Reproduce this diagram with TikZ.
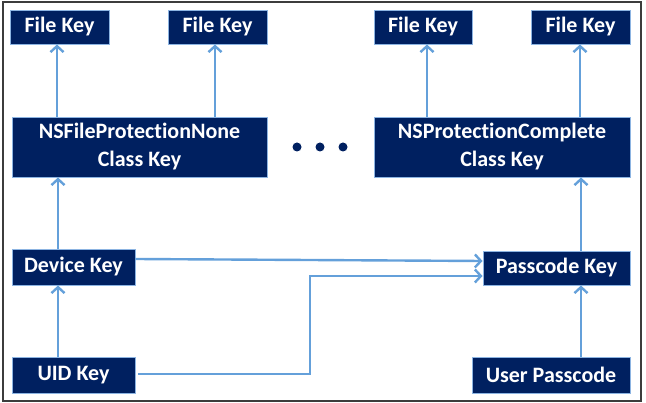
\documentclass[tikz,border=0pt]{standalone}
\usepackage{fontspec}
\setmainfont{Carlito}[Ligatures=NoCommon]
\usetikzlibrary{arrows.meta}
\definecolor{navy}{RGB}{0,32,96}
\definecolor{edgeblue}{RGB}{140,180,226}
\definecolor{arrblue}{RGB}{100,160,218}
\definecolor{framegray}{RGB}{60,60,60}
\tikzset{
  keybox/.style={draw=edgeblue, line width=0.9pt, fill=navy, text=white,
    font=\fontsize{22}{28}\selectfont\bfseries, align=center,
    inner sep=0pt, anchor=center},
  arr/.style={draw=arrblue, line width=2.4pt,
    -{Straight Barb[length=6pt,width=13pt,line width=2.4pt]}},
  dot/.style={circle, fill=navy, inner sep=0pt, minimum size=9pt}
}
\begin{document}
\begin{tikzpicture}[x=1pt,y=-1pt]
\useasboundingbox (0,0) rectangle (646,403);
\draw[framegray, line width=1.3pt] (3,2) rectangle (641,401);
% nodes
\node[keybox, minimum width=99pt, minimum height=34pt] (fk1) at (59.5,27) {File Key};
\node[keybox, minimum width=99pt, minimum height=34pt] (fk2) at (217.5,27) {File Key};
\node[keybox, minimum width=98pt, minimum height=34pt] (fk3) at (423,27) {File Key};
\node[keybox, minimum width=99pt, minimum height=34pt] (fk4) at (580.5,27) {File Key};
\node[keybox, minimum width=255pt, minimum height=60pt] (none) at (139.5,147) {NSFileProtectionNone\\Class Key};
\node[keybox, minimum width=256pt, minimum height=60pt] (comp) at (502,147) {NSProtectionComplete\\Class Key};
\node[keybox, minimum width=123pt, minimum height=36pt] (dev) at (73.5,267) {Device Key};
\node[keybox, minimum width=147pt, minimum height=34pt] (pass) at (556.5,268) {Passcode Key};
\node[keybox, minimum width=123pt, minimum height=36pt] (uid) at (73.5,375) {UID Key};
\node[keybox, minimum width=158pt, minimum height=36pt] (user) at (551,375) {User Passcode};
% dots
\node[dot] (d1) at (297,147) {};
\node[dot] (d2) at (320,147) {};
\node[dot] (d3) at (343,147) {};
% arrows
\draw[arr] (none.north -| 57,0) -- (fk1.south -| 57,0);
\draw[arr] (none.north -| 215,0) -- (fk2.south -| 215,0);
\draw[arr] (comp.north -| 427,0) -- (fk3.south -| 427,0);
\draw[arr] (comp.north -| 580,0) -- (fk4.south -| 580,0);
\draw[arr] (dev.north -| 58,0) -- (none.south -| 58,0);
\draw[arr] (uid.north -| 58,0) -- (dev.south -| 58,0);
\draw[arr] (pass.north -| 581,0) -- (comp.south -| 581,0);
\draw[arr] (user.north -| 581,0) -- (pass.south -| 581,0);
\draw[arr] (dev.east |- 0,259) -- (pass.west |- 0,261);
\coordinate (bend1) at (310,374);
\coordinate (bend2) at (310,276);
\draw[arr] ([xshift=3pt]uid.east |- bend1) -- (bend1) -- (bend2) -- (pass.west |- bend2);
\end{tikzpicture}
\end{document}
